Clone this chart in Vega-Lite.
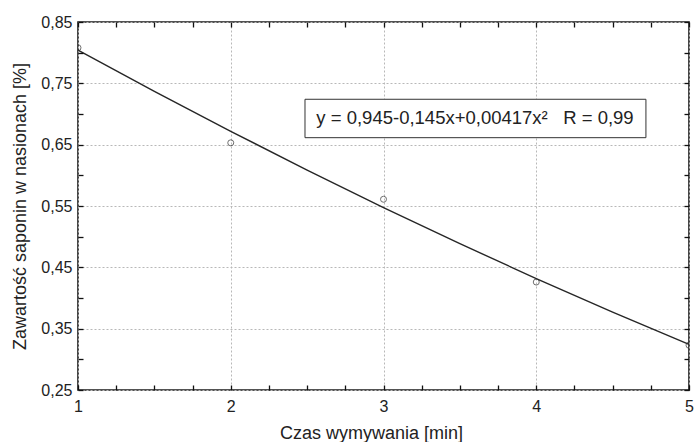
{
  "$schema": "https://vega.github.io/schema/vega-lite/v6.json",
  "width": 611,
  "height": 368,
  "autosize": "none",
  "padding": {"left": 78, "top": 22, "right": 5, "bottom": 52},
  "background": "white",
  "config": {
    "font": "Liberation Sans",
    "view": {"stroke": "#1a1a1a", "strokeWidth": 1.6},
    "axis": {"domain": false, "tickColor": "#111", "tickWidth": 1.3, "labelFlush": false,
             "labelFont": "Liberation Sans", "labelFontSize": 16, "labelColor": "#222",
             "titleFont": "Liberation Sans", "titleFontSize": 18, "titleFontWeight": "normal", "titleColor": "#222",
             "gridColor": "#b8b8b8", "gridDash": [2, 2], "gridWidth": 1}
  },
  "datasets": {
    "obs": [
      {"czas": 1, "zawartosc": 0.808},
      {"czas": 2, "zawartosc": 0.653},
      {"czas": 3, "zawartosc": 0.561},
      {"czas": 4, "zawartosc": 0.426},
      {"czas": 5, "zawartosc": 0.323}
    ],
    "fit": [
      {"czas": 1, "zawartosc": 0.8042},
      {"czas": 1.5, "zawartosc": 0.7369},
      {"czas": 2, "zawartosc": 0.6717},
      {"czas": 2.5, "zawartosc": 0.6086},
      {"czas": 3, "zawartosc": 0.5475},
      {"czas": 3.5, "zawartosc": 0.4886},
      {"czas": 4, "zawartosc": 0.4317},
      {"czas": 4.5, "zawartosc": 0.3769},
      {"czas": 5, "zawartosc": 0.3243}
    ],
    "box": [
      {"x1": 2.486, "x2": 4.718, "y1": 0.724, "y2": 0.6614, "xt": 3.599, "yt": 0.6927, "label": "y = 0,945-0,145x+0,00417x²\u00a0\u00a0\u00a0R = 0,99"}
    ]
  },
  "layer": [
    {
      "data": {"name": "fit"},
      "mark": {"type": "line", "color": "#262626", "strokeWidth": 1.4},
      "encoding": {
        "x": {"field": "czas", "type": "quantitative", "scale": {"domain": [1, 5], "nice": false, "zero": false},
              "axis": {"orient": "bottom", "title": "Czas wymywania [min]", "titlePadding": 10, "titleX": 293, "titleAlign": "center",
                       "values": [1, 2, 3, 4, 5], "format": "d", "ticks": false, "labelPadding": 8,
                       "grid": true}},
        "y": {"field": "zawartosc", "type": "quantitative", "scale": {"domain": [0.25, 0.85], "nice": false, "zero": false},
              "axis": {"orient": "left", "title": "Zawartość saponin w nasionach [%]", "titlePadding": 11,
                       "values": [0.25, 0.35, 0.45, 0.55, 0.65, 0.75, 0.85], "ticks": false,
                       "labelExpr": "replace(format(datum.value, '.2f'), '.', ',')", "labelPadding": 6,
                       "grid": true}}
      }
    },
    {
      "data": {"name": "box"},
      "mark": {"type": "rect", "fill": "white", "stroke": "#333", "strokeWidth": 1},
      "encoding": {
        "x": {"field": "x1", "type": "quantitative",
              "axis": {"orient": "bottom", "title": null, "labels": false, "grid": false, "offset": -5, "tickSize": 5, "ticks": true, "zindex": 2,
                       "values": [1, 1.25, 1.5, 1.75, 2, 2.25, 2.5, 2.75, 3, 3.25, 3.5, 3.75, 4, 4.25, 4.5, 4.75, 5]}},
        "x2": {"field": "x2"},
        "y": {"field": "y1", "type": "quantitative",
              "axis": {"orient": "left", "title": null, "labels": false, "grid": false, "offset": -5, "tickSize": 5, "ticks": true, "zindex": 2,
                       "values": [0.25, 0.3, 0.35, 0.4, 0.45, 0.5, 0.55, 0.6, 0.65, 0.7, 0.75, 0.8, 0.85]}},
        "y2": {"field": "y2"}
      }
    },
    {
      "data": {"name": "box"},
      "mark": {"type": "text", "fontSize": 18.5, "color": "#222", "font": "Liberation Sans"},
      "encoding": {
        "x": {"field": "xt", "type": "quantitative", "axis": null},
        "y": {"field": "yt", "type": "quantitative", "axis": null},
        "text": {"field": "label"}
      }
    },
    {
      "data": {"name": "obs"},
      "mark": {"type": "point", "shape": "circle", "size": 36, "filled": false, "stroke": "#333", "strokeWidth": 1, "clip": true},
      "encoding": {
        "x": {"field": "czas", "type": "quantitative",
              "axis": {"orient": "top", "title": null, "labels": false, "grid": false, "offset": -5, "tickSize": 5, "ticks": true, "zindex": 2,
                       "values": [1, 1.25, 1.5, 1.75, 2, 2.25, 2.5, 2.75, 3, 3.25, 3.5, 3.75, 4, 4.25, 4.5, 4.75, 5]}},
        "y": {"field": "zawartosc", "type": "quantitative",
              "axis": {"orient": "right", "title": null, "labels": false, "grid": false, "offset": -5, "tickSize": 5, "ticks": true, "zindex": 2,
                       "values": [0.25, 0.3, 0.35, 0.4, 0.45, 0.5, 0.55, 0.6, 0.65, 0.7, 0.75, 0.8, 0.85]}}
      }
    }
  ],
  "resolve": {"axis": {"x": "independent", "y": "independent"}}
}
